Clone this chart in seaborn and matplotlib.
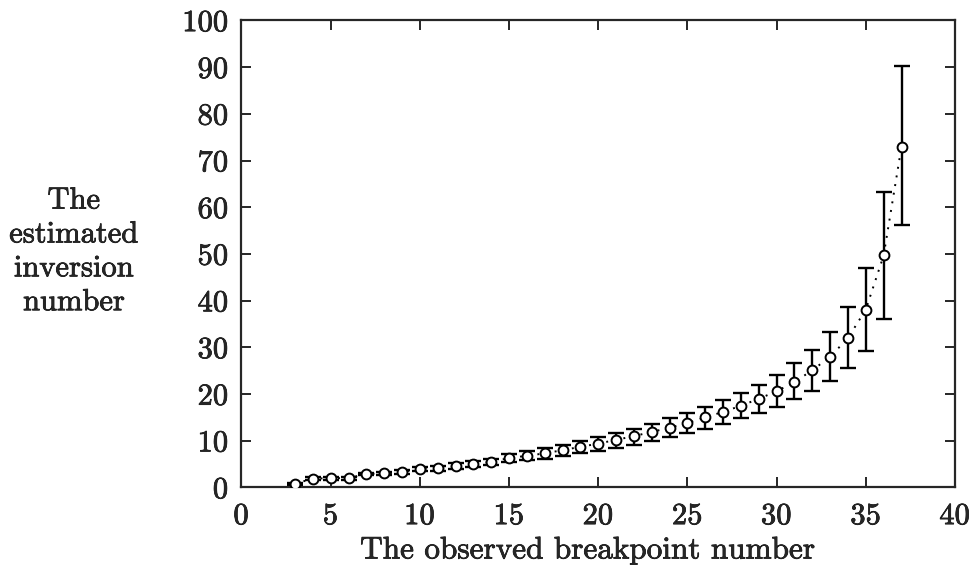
import numpy as np
import pandas as pd
import matplotlib
matplotlib.use("Agg")
import matplotlib.pyplot as plt
import matplotlib.patheffects as pe
import seaborn as sns

## Data
breakpoints = [3, 4, 5, 6, 7, 8, 9, 10, 11, 12, 13, 14, 15, 16, 17, 18, 19, 20,
               21, 22, 23, 24, 25, 26, 27, 28, 29, 30, 31, 32, 33, 34, 35, 36, 37]
estimate = [0.8, 1.9, 2.0, 2.0, 2.9, 3.0, 3.3, 4.0, 4.1, 4.6, 5.0, 5.5, 6.3, 6.8,
            7.3, 8.0, 8.7, 9.4, 10.2, 11.0, 11.9, 12.8, 13.8, 15.0, 16.2, 17.5,
            19.0, 20.6, 22.6, 25.1, 28.0, 32.0, 38.1, 49.7, 73.0]
lower = [0.6, 1.6, 1.7, 1.7, 2.6, 2.7, 2.9, 3.5, 3.6, 4.0, 4.4, 4.8, 5.4, 5.8,
         6.2, 6.8, 7.3, 7.9, 8.5, 9.2, 10.0, 10.8, 11.6, 12.5, 13.6, 14.9,
         16.0, 17.3, 18.9, 20.7, 22.9, 25.6, 29.3, 36.1, 56.3]
upper = [1.0, 2.2, 2.3, 2.3, 3.2, 3.3, 3.7, 4.4, 4.6, 5.2, 5.6, 6.2, 7.2, 7.8,
         8.4, 9.2, 10.0, 10.8, 11.7, 12.6, 13.6, 14.8, 16.0, 17.3, 18.7, 20.3,
         22.0, 24.1, 26.7, 29.5, 33.3, 38.7, 47.0, 63.2, 90.3]

df = pd.DataFrame({"breakpoints": breakpoints, "estimate": estimate,
                   "lower": lower, "upper": upper})

## Style
sns.set_style("ticks")
plt.rcParams["font.family"] = ["cmr10", "DejaVu Serif"]
plt.rcParams["axes.formatter.use_mathtext"] = True
plt.rcParams["mathtext.fontset"] = "cm"

fig = plt.figure(figsize=(9.78, 5.66), dpi=100)
ax = fig.add_axes([0.2469, 0.1387, 0.7296, 0.8251])

## Dotted line through the estimates
sns.lineplot(data=df, x="breakpoints", y="estimate", ax=ax, color="black",
             linestyle=(0, (1, 3.5)), linewidth=1.4, errorbar=None)

## Error bars
yerr = np.array([df["estimate"] - df["lower"], df["upper"] - df["estimate"]])
ax.errorbar(df["breakpoints"], df["estimate"], yerr=yerr, fmt="none",
            ecolor="black", elinewidth=1.7, capsize=5.5, capthick=1.7)

## Open circles
sns.scatterplot(data=df, x="breakpoints", y="estimate", ax=ax, marker="o",
                s=50, facecolor="white", edgecolor="black", linewidth=1.4,
                zorder=5)

ax.set_xlim(0, 40)
ax.set_ylim(0, 100)
ax.set_xticks(range(0, 41, 5))
ax.set_yticks(range(0, 101, 10))
ax.tick_params(direction="in", length=7, width=1.4, top=True, right=True,
               labelsize=22)
ax.tick_params(axis="x", pad=11)
ax.tick_params(axis="y", pad=9)
for s in ax.spines.values():
    s.set_linewidth(1.6)
    s.set_visible(True)

ax.set_xlabel("The observed breakpoint number", fontsize=22.5)
ax.xaxis.set_label_coords(0.485, -0.105)
ax.set_ylabel("The\nestimated\ninversion\nnumber", fontsize=22, rotation=0,
              ha="center", va="center", linespacing=1.3)
ax.yaxis.set_label_coords(-0.235, 0.505)

## slightly heavier text, like the scanned original
thick = [pe.withStroke(linewidth=0.5, foreground="black")]
for t in ax.get_xticklabels() + ax.get_yticklabels():
    t.set_path_effects(thick)
ax.xaxis.label.set_path_effects(thick)
ax.yaxis.label.set_path_effects(thick)

fig.savefig("out.png", dpi=100)
